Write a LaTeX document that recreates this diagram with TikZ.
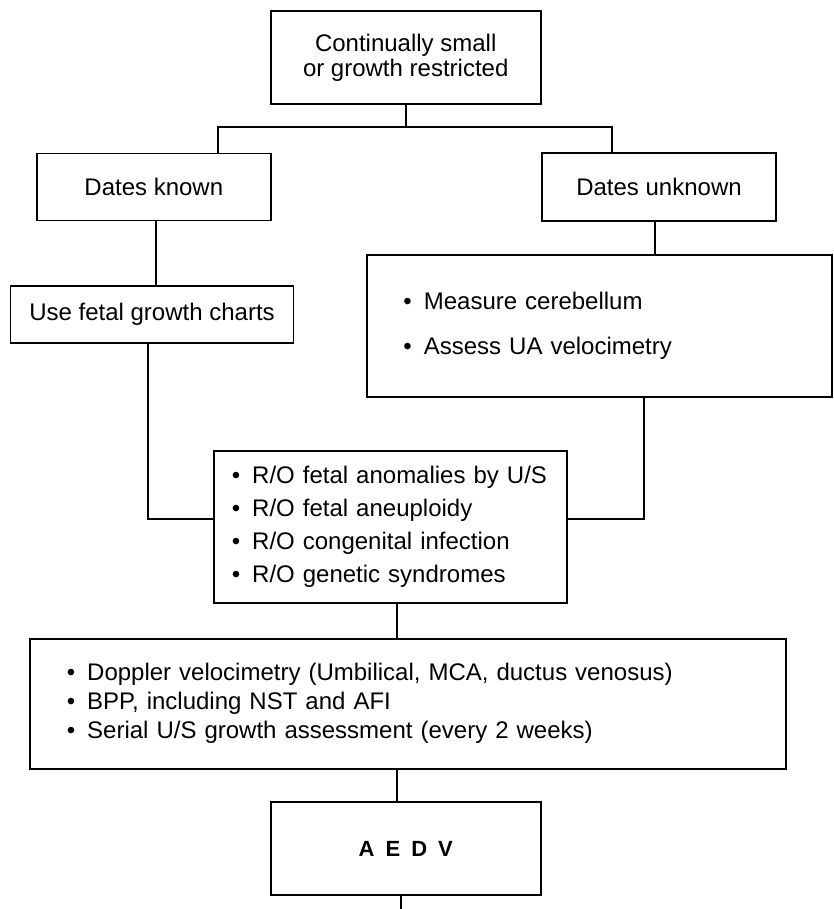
\documentclass[tikz,border=0pt]{standalone}
\usepackage{fontspec}
\setmainfont{Liberation Sans}
\newcommand{\bul}{\textbullet\hspace{.5em}}

\begin{document}
\begin{tikzpicture}[x=1pt,y=-1pt]
  \tikzstyle{box}=[draw, rectangle, line width=1.9pt, inner sep=0pt, align=center, font={\fontsize{24}{25}\selectfont}]
  \tikzstyle{list}=[box, align=left]
  \tikzstyle{wire}=[line width=1.9pt]
  \useasboundingbox (0,0) rectangle (834,909);
  % top node
  \draw (405.7,57.5) node (top) [box, minimum width=270pt, minimum height=93pt] {Continually small\\or growth restricted};
  % left nodes
  \draw (153.8,187) node (known) [box, minimum width=234pt, minimum height=67pt] {Dates known}
    (152,314.3) node (charts) [box, minimum width=283pt, minimum height=57pt] {Use fetal growth charts};
  % right nodes
  \draw (659,186.7) node (unknown) [box, minimum width=234pt, minimum height=68pt] {Dates unknown}
    (599.3,326) node (measure) [list, text width=391.7pt, inner xsep=36.8pt, minimum height=142.6pt,
      font={\fontsize{24}{45}\selectfont}] {\bul Measure cerebellum\\\bul Assess UA velocimetry};
  % middle nodes
  \draw (390.5,526.8) node (ro) [list, text width=317.4pt, inner xsep=17.5pt, minimum height=151.7pt,
      font={\fontsize{24}{33}\selectfont}]
      {\bul R/O fetal anomalies by U/S\\\bul R/O fetal aneuploidy\\\bul R/O congenital infection\\\bul R/O genetic syndromes};
  \draw (408.2,703.7) node (doppler) [list, text width=682.8pt, inner xsep=36.4pt, minimum height=130pt,
      font={\fontsize{24}{29}\selectfont}]
      {\bul Doppler velocimetry (Umbilical, MCA, ductus venosus)\\\bul BPP, including NST and AFI\\\bul Serial U/S growth assessment (every 2 weeks)};
  \draw (405.8,848.8) node (aedv) [box, minimum width=270pt, minimum height=93pt,
      font={\fontsize{22}{24}\bfseries}] {A\hspace{.5em}E\hspace{.5em}D\hspace{.5em}V};
  % connectors
  \coordinate (split) at (top.south |- 0,127.3);
  \draw [wire] (top.south) -- (split);
  \draw [wire] (218,0 |- known.north) |- (split) -| (611.7,0 |- unknown.north);
  \draw [wire] (155.7,0 |- known.south) -- (155.7,0 |- charts.north);
  \draw [wire] (655.3,0 |- unknown.south) -- (655.3,0 |- measure.north);
  \draw [wire] (148.3,0 |- charts.south) |- ([yshift=7.5pt]ro.west);
  \draw [wire] (644,0 |- measure.south) |- ([yshift=7.5pt]ro.east);
  \draw [wire] (397.3,0 |- ro.south) -- (397.3,0 |- doppler.north);
  \draw [wire] (397.3,0 |- doppler.south) -- (397.3,0 |- aedv.north);
  \coordinate (end) at (400.7,909);
  \draw [wire] (400.7,0 |- aedv.south) -- (end);
\end{tikzpicture}
\end{document}
